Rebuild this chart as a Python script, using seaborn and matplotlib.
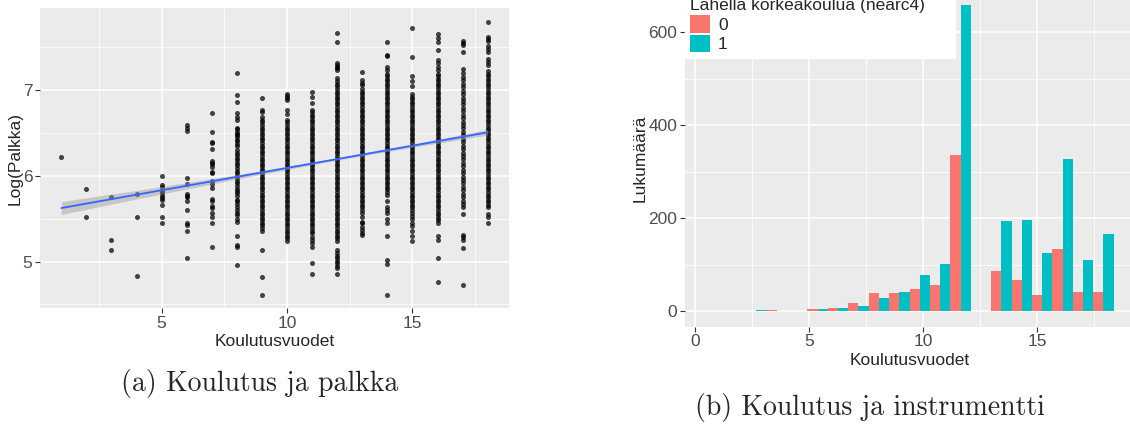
import numpy as np
import pandas as pd
import matplotlib
matplotlib.use("Agg")
import matplotlib.pyplot as plt
from matplotlib.ticker import MultipleLocator
import seaborn as sns

# ---------------- panel (a): log wage by years of schooling ----------------
logw_e1 = [6.22]
logw_e2 = [5.845, 5.52]
logw_e3 = [5.755, 5.25, 5.13]
logw_e4 = [5.79, 5.52, 4.835]
logw_e5 = [6.0, 5.895, 5.87, 5.82, 5.795, 5.767, 5.744, 5.713, 5.658, 5.522, 5.445]
logw_e6 = [6.594, 6.552, 6.521, 5.973, 5.903, 5.79, 5.767, 5.748, 5.709, 5.604,
           5.452, 5.429, 5.359, 5.037]
logw_e7 = [6.731, 6.509, 6.396, 6.378, 6.315, 6.175, 6.152, 6.133, 6.105, 6.047,
           6.028, 5.942, 5.907, 5.86, 5.725, 5.709, 5.647, 5.627, 5.565, 5.522,
           5.445, 5.172]
logw_e8 = [7.20, 6.937, 6.859, 6.735, 6.688, 6.65, 6.56, 6.54, 6.51, 6.49, 6.474,
           6.455, 6.42, 6.40, 6.37, 6.34, 6.30, 6.27, 6.24, 6.21, 6.18, 6.15, 6.12,
           6.09, 6.06, 6.03, 6.00, 5.97, 5.94, 5.91, 5.88, 5.85, 5.82, 5.794, 5.76,
           5.72, 5.70, 5.67, 5.64, 5.60, 5.57, 5.542, 5.50, 5.464, 5.301, 5.192,
           5.165, 4.959]
logw_e9 = [6.909, 6.766, 6.74, 6.68, 6.65, 6.62, 6.59, 6.56, 6.53, 6.50, 6.47, 6.44,
           6.41, 6.38, 6.35, 6.32, 6.29, 6.26, 6.23, 6.20, 6.17, 6.14, 6.11, 6.08,
           6.05, 6.02, 5.99, 5.96, 5.93, 5.90, 5.87, 5.84, 5.81, 5.78, 5.75, 5.72,
           5.69, 5.66, 5.63, 5.60, 5.57, 5.54, 5.51, 5.48, 5.45, 5.42, 5.39, 5.36,
           5.134, 4.815, 4.61]
logw_e10 = [6.952, 6.93, 6.90, 6.882, 6.766, 6.72, 6.65, 6.62, 6.59, 6.56, 6.53,
            6.50, 6.47, 6.44, 6.41, 6.38, 6.35, 6.32, 6.29, 6.26, 6.23, 6.20, 6.17,
            6.14, 6.11, 6.08, 6.05, 6.02, 5.99, 5.96, 5.93, 5.90, 5.87, 5.84, 5.81,
            5.78, 5.75, 5.72, 5.69, 5.66, 5.63, 5.60, 5.57, 5.54, 5.51, 5.48, 5.45,
            5.42, 5.39, 5.36, 5.33, 5.30, 5.27, 5.243]
logw_e11 = [6.98, 6.915, 6.846, 6.77, 6.74, 6.71, 6.68, 6.65, 6.62, 6.59, 6.56,
            6.53, 6.50, 6.47, 6.44, 6.41, 6.38, 6.35, 6.32, 6.29, 6.26, 6.23, 6.20,
            6.17, 6.14, 6.11, 6.08, 6.05, 6.02, 5.99, 5.96, 5.93, 5.90, 5.87, 5.84,
            5.81, 5.78, 5.75, 5.72, 5.69, 5.66, 5.63, 5.60, 5.57, 5.54, 5.51, 5.48,
            5.45, 5.42, 5.39, 5.36, 5.33, 5.29, 5.25, 5.21, 5.17, 4.986, 4.85]
logw_e12 = [7.66, 7.56, 7.31, 7.29, 7.27, 7.25, 7.23, 7.135, 7.10, 7.07, 7.04, 7.01,
            6.98, 6.95, 6.92, 6.89, 6.86, 6.83, 6.80, 6.77, 6.74, 6.71, 6.68, 6.65,
            6.62, 6.59, 6.56, 6.53, 6.50, 6.47, 6.44, 6.41, 6.38, 6.35, 6.32, 6.29,
            6.26, 6.23, 6.20, 6.17, 6.14, 6.11, 6.08, 6.05, 6.02, 5.99, 5.96, 5.93,
            5.90, 5.87, 5.84, 5.81, 5.78, 5.75, 5.72, 5.69, 5.66, 5.63, 5.60, 5.57,
            5.54, 5.51, 5.48, 5.45, 5.42, 5.39, 5.36, 5.33, 5.30, 5.27, 5.24, 5.134,
            5.10, 5.07, 5.04, 5.01, 4.98, 4.95, 4.92, 4.85]
logw_e13 = [7.204, 7.11, 7.08, 7.06, 7.01, 6.98, 6.95, 6.92, 6.89, 6.86, 6.83, 6.80,
            6.77, 6.74, 6.71, 6.68, 6.65, 6.62, 6.59, 6.56, 6.53, 6.50, 6.47, 6.44,
            6.41, 6.38, 6.35, 6.32, 6.29, 6.26, 6.23, 6.20, 6.17, 6.14, 6.11, 6.08,
            6.05, 6.02, 5.99, 5.96, 5.93, 5.90, 5.87, 5.84, 5.81, 5.78, 5.75, 5.72,
            5.69, 5.66, 5.63, 5.60, 5.56, 5.52, 5.464, 5.443, 5.40, 5.37, 5.33, 5.31]
logw_e14 = [7.562, 7.41, 7.39, 7.263, 7.232, 7.19, 7.16, 7.13, 7.10, 7.07, 7.04,
            7.01, 6.98, 6.95, 6.92, 6.89, 6.86, 6.83, 6.80, 6.77, 6.74, 6.71, 6.68,
            6.65, 6.62, 6.59, 6.56, 6.53, 6.50, 6.47, 6.44, 6.41, 6.38, 6.35, 6.32,
            6.29, 6.26, 6.23, 6.20, 6.17, 6.14, 6.11, 6.08, 6.05, 6.02, 5.99, 5.96,
            5.93, 5.90, 5.87, 5.84, 5.81, 5.78, 5.70, 5.64, 5.60, 5.56, 5.50, 5.443,
            5.30, 5.02, 4.97, 4.61]
logw_e15 = [7.717, 7.386, 7.16, 7.10, 7.046, 6.95, 6.92, 6.89, 6.86, 6.83, 6.80,
            6.77, 6.74, 6.71, 6.68, 6.65, 6.62, 6.59, 6.56, 6.53, 6.50, 6.47, 6.44,
            6.41, 6.38, 6.35, 6.32, 6.29, 6.26, 6.23, 6.20, 6.17, 6.14, 6.11, 6.08,
            6.05, 6.02, 5.99, 5.96, 5.93, 5.90, 5.87, 5.84, 5.81, 5.78, 5.75, 5.72,
            5.69, 5.66, 5.63, 5.60, 5.57, 5.53, 5.49, 5.45, 5.41, 5.36, 5.30, 5.24]
logw_e16 = [7.648, 7.60, 7.56, 7.47, 7.35, 7.31, 7.27, 7.23, 7.19, 7.16, 7.13, 7.10,
            7.07, 7.04, 7.01, 6.98, 6.95, 6.92, 6.89, 6.86, 6.83, 6.80, 6.77, 6.74,
            6.71, 6.68, 6.65, 6.62, 6.59, 6.56, 6.53, 6.50, 6.47, 6.44, 6.41, 6.38,
            6.35, 6.32, 6.29, 6.26, 6.23, 6.20, 6.17, 6.14, 6.11, 6.08, 6.05, 6.02,
            5.99, 5.96, 5.93, 5.90, 5.87, 5.84, 5.81, 5.78, 5.75, 5.72, 5.69, 5.66,
            5.63, 5.60, 5.57, 5.54, 5.51, 5.48, 5.445, 5.30, 5.25, 5.045, 4.766]
logw_e17 = [7.57, 7.54, 7.52, 7.44, 7.24, 7.20, 7.15, 7.11, 7.07, 7.03, 6.99, 6.95,
            6.91, 6.87, 6.83, 6.79, 6.75, 6.71, 6.67, 6.63, 6.59, 6.55, 6.51, 6.47,
            6.43, 6.39, 6.35, 6.31, 6.27, 6.23, 6.19, 6.15, 6.11, 6.07, 6.03, 5.99,
            5.95, 5.91, 5.87, 5.83, 5.79, 5.75, 5.71, 5.67, 5.63, 5.55, 5.31, 5.28,
            5.25, 5.157, 4.722]
logw_e18 = [7.787, 7.61, 7.59, 7.57, 7.51, 7.48, 7.44, 7.36, 7.33, 7.29, 7.22, 7.19,
            7.16, 7.13, 7.10, 7.07, 7.04, 7.01, 6.98, 6.95, 6.92, 6.89, 6.86, 6.83,
            6.80, 6.77, 6.74, 6.71, 6.68, 6.65, 6.62, 6.59, 6.56, 6.53, 6.50, 6.47,
            6.44, 6.41, 6.38, 6.35, 6.32, 6.29, 6.26, 6.23, 6.20, 6.17, 6.14, 6.11,
            6.08, 6.05, 6.02, 5.99, 5.96, 5.93, 5.90, 5.87, 5.84, 5.81, 5.78, 5.75,
            5.72, 5.69, 5.66, 5.63, 5.55, 5.52, 5.443]

# fitted regression line and its confidence band
fit_x = [1, 18]
fit_y = [5.623, 6.505]
band_x = [1, 4, 8, 12, 15, 18]
band_half = [0.075, 0.05, 0.025, 0.012, 0.018, 0.032]

# ---------------- panel (b): counts by schooling and nearc4 ----------------
educ_years = list(range(1, 19))
count_near0 = [1, 1, 1, 3, 4, 7, 17, 39, 39, 47, 57, 335, 87, 67, 35, 133, 41, 41]
count_near1 = [0, 1, 3, 1, 4, 7, 11, 29, 41, 78, 102, 659, 194, 196, 125, 327, 110, 166]
hue_labels = ["0", "1"]

# ---------------- build tables ----------------
cols = [logw_e1, logw_e2, logw_e3, logw_e4, logw_e5, logw_e6, logw_e7, logw_e8,
        logw_e9, logw_e10, logw_e11, logw_e12, logw_e13, logw_e14, logw_e15,
        logw_e16, logw_e17, logw_e18]
rows = []
for e, vals in zip(educ_years, cols):
    for v in vals:
        rows.append((e, v))
dfa = pd.DataFrame(rows, columns=["educ", "logwage"])

dfb = pd.DataFrame({
    "educ": educ_years * 2,
    "count": count_near0 + count_near1,
    "nearc4": [hue_labels[0]] * len(educ_years) + [hue_labels[1]] * len(educ_years),
})

# ggplot-style bins (bins = 20 over the data range)
bw = (max(educ_years) - min(educ_years)) / 19
edges = [bw / 2 + bw * k for k in range(21)]

# ---------------- style ----------------
sns.set_theme(style="darkgrid")
plt.rcParams["font.family"] = ["Liberation Sans", "DejaVu Sans"]
BG = "#EBEBEB"
TICKC = "#4D4D4D"

W, H = 1130, 424
fig = plt.figure(figsize=(W / 100, H / 100), dpi=100)
fig.patch.set_facecolor("white")


def style_axes(ax):
    ax.set_facecolor(BG)
    for s in ax.spines.values():
        s.set_visible(False)
    ax.set_axisbelow(True)
    ax.grid(which="major", color="white", lw=1.1)
    ax.grid(which="minor", color="white", lw=0.55)
    ax.tick_params(which="major", length=3.5, width=0.8, color="#333333",
                   labelsize=12.5, labelcolor=TICKC, pad=2, bottom=True, left=True)
    ax.tick_params(which="minor", length=0)


# panel (a)
axa = fig.add_axes([40 / W, (H - 308.3) / H, 469 / W, 300 / H])
style_axes(axa)
sns.scatterplot(data=dfa, x="educ", y="logwage", color="black", alpha=0.72,
                s=13, linewidth=0, ax=axa, zorder=2)
lo = [fy - h for fy, h in zip(np.interp(band_x, fit_x, fit_y), band_half)]
hi = [fy + h for fy, h in zip(np.interp(band_x, fit_x, fit_y), band_half)]
axa.fill_between(band_x, lo, hi, color="#999999", alpha=0.45, lw=0, zorder=3)
sns.lineplot(x=fit_x, y=fit_y, color="#3366FF", lw=1.3, ax=axa, zorder=4)
axa.set_xlim(0.15, 18.85)
axa.set_ylim(4.455, 7.95)
axa.xaxis.set_major_locator(MultipleLocator(5))
axa.xaxis.set_minor_locator(MultipleLocator(2.5))
axa.yaxis.set_major_locator(MultipleLocator(1))
axa.yaxis.set_minor_locator(MultipleLocator(0.5))
axa.set_xticks([5, 10, 15])
axa.set_xlabel("Koulutusvuodet", fontsize=12.5, labelpad=2)
axa.set_ylabel("Log(Palkka)", fontsize=12.5, labelpad=0)

# panel (b)
axb = fig.add_axes([685 / W, (H - 326.6) / H, 449 / W, 337.1 / H])
style_axes(axb)
sns.histplot(data=dfb, x="educ", weights="count", hue="nearc4",
             hue_order=hue_labels, bins=edges, multiple="dodge", shrink=1,
             palette=["#F8766D", "#00BFC4"], alpha=1, linewidth=0, ax=axb)
axb.set_xlim(-0.447, 19.235)
axb.set_ylim(-33, 692)
axb.xaxis.set_major_locator(MultipleLocator(5))
axb.xaxis.set_minor_locator(MultipleLocator(2.5))
axb.yaxis.set_major_locator(MultipleLocator(200))
axb.yaxis.set_minor_locator(MultipleLocator(100))
axb.set_xlabel("Koulutusvuodet", fontsize=12.5, labelpad=3)
axb.set_ylabel("Lukumäärä", fontsize=12.5, labelpad=0.5)

sns.move_legend(axb, "upper left", bbox_to_anchor=(685 / W, 1.016),
                bbox_transform=fig.transFigure,
                title="Lähellä korkeakoulua (nearc4)     ", frameon=True,
                fontsize=12.5, title_fontsize=12.5, handlelength=1.15,
                handleheight=1.2, handletextpad=0.45, labelspacing=0.1,
                borderpad=0.3, borderaxespad=0, alignment="left",
                fancybox=False)
leg = axb.get_legend()
leg.get_frame().set_facecolor("white")
leg.get_frame().set_edgecolor("white")
leg.get_frame().set_alpha(1)

# captions
fig.text(260 / W, 1 - 384 / H, "(a) Koulutus ja palkka", family="cmr10",
         fontsize=20, ha="center", va="center")
fig.text(870 / W, 1 - 407 / H, "(b) Koulutus ja instrumentti", family="cmr10",
         fontsize=20, ha="center", va="center")

fig.savefig("out.png", dpi=100, facecolor="white")
